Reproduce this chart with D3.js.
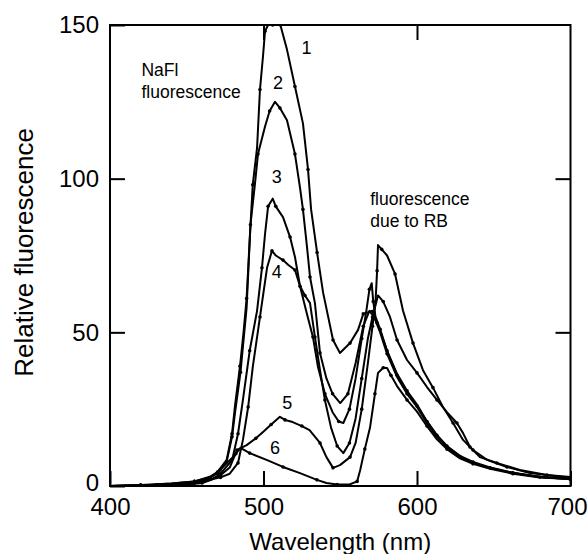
<!DOCTYPE html>
<html>
<head>
<meta charset="utf-8">
<script src="https://cdn.jsdelivr.net/npm/d3@7"></script>
<style>
  html, body { margin: 0; padding: 0; background: #fff; }
  svg { display: block; }
  text { font-family: "Liberation Sans", Arial, sans-serif; fill: #000; }
</style>
</head>
<body>
<svg id="chart" width="588" height="554"></svg>
<script>
// ---- data (wavelength nm, relative fluorescence) ----
const xTicks = [400, 500, 600, 700];
const yTicks = [0, 50, 100, 150];
const xTitle = "Wavelength (nm)";
const yTitle = "Relative fluorescence";

const curve1 = [[400,0],[420,0.3],[440,0.8],[455,1.5],[465,3],[470,4.5],[476,8.5],[479.5,17],[481.4,26],[484.7,39],[487,50],[489,61],[491,80],[493,98],[495.8,110],[497.7,129],[499.7,140],[501,148],[503,150],[506,150],[509,150],[511,150],[515.3,142],[520.5,130],[525.7,118],[529,103],[531,90],[534.9,76],[538.8,63],[545.3,47.5],[549.8,43.3],[556.4,46.5],[561.6,50.8],[565,56],[571,57],[574,53],[576,50.5],[580.5,44],[587,36.5],[593.5,31],[600,26.5],[606.5,21],[613,16.5],[619.5,13],[628,9.8],[636.5,7.8],[647.6,6],[662.5,4.3],[680,3],[700,2.2]];
const curve2 = [[400,0],[420,0.2],[440,0.8],[455,1.5],[465,2.8],[470,4],[476,8],[479.5,16],[481.5,24],[485,37],[489,58],[491.5,85],[494.5,98.6],[496.4,108],[501,117],[504,122],[507.5,125],[510.7,123],[515.3,119],[520.5,108],[523.8,97],[525.7,90],[528.3,78],[530.3,68],[533.5,59.5],[536.8,43.3],[541,35],[545,30],[550,27],[555,30],[560,40],[565,52],[569,57],[572,55],[576,50],[580.5,43],[587,35.5],[593.5,30],[600,25.7],[606.5,20.5],[613,16],[619.5,12.7],[628,9.4],[636.5,7.5],[647.6,5.9],[662.5,4.2],[680,2.9],[700,2.4]];
const curve3 = [[400,0],[420,0.2],[440,0.6],[455,1.2],[465,2.5],[471.7,5.2],[480,9.4],[483.4,17],[486.6,28],[491,44],[495.8,57],[499,71],[501,82],[503,91],[506,93.5],[508,91],[512.7,87.5],[517.3,81],[520.5,74.5],[523.8,65],[528.3,56],[532.2,48.5],[535.5,38.7],[540,30],[545,24],[549,21],[552,20.5],[556,25],[560,35],[564,48],[567,57],[569,64],[570.5,66],[571.5,60],[573,55],[576,51],[580.5,44],[587,36],[593.5,30.5],[600,26],[606.5,21],[613,16.5],[619.5,12.8],[628,9.6],[636.5,7.6],[647.6,5.9],[662.5,4.2],[680,2.9],[700,2.2]];
const curve4 = [[400,0],[420,0.2],[440,0.6],[455,1],[465,2],[472,2.8],[478,4],[483.4,7.5],[486.6,15],[490,25.7],[493,38.7],[497.7,55],[502.3,71],[505.5,76.5],[508,75],[512.7,73.5],[516,72],[520.5,70.3],[523.8,65],[527,62],[530.3,59.5],[533.5,48.5],[536.8,37.7],[540,28],[544,19],[548,13],[552,10.7],[556,14],[560,22],[564,35],[568,48],[571,55],[574.6,62],[578,60],[582.4,55],[587,47.5],[593.5,41],[600,36.8],[606.5,32.2],[613,28],[619.5,24],[626,20.5],[630,17.2],[634.5,12.7],[641,9.4],[652,7.5],[667,5.2],[684.7,3.6],[700,2.9]];
const curve5 = [[400,0],[420,0.2],[440,0.6],[455,1],[465,2],[472,3.5],[478,6],[482.7,11.7],[489,13.3],[495,15.5],[499.7,17.6],[505,20],[510.7,22.5],[514,21.5],[519,20.8],[525,19.5],[530,18.2],[536.8,14],[541,9.4],[545.3,5.9],[549.8,6.8],[556.4,9.4],[560,14],[564,25],[568,40],[571,52],[573,60],[574,70],[574.6,78.4],[577,77],[580.5,75],[585.7,69],[590.9,57],[597.4,46.5],[603.9,37.7],[610.4,32],[616.9,25.7],[623.5,20.5],[630,15],[636.5,11.7],[645.6,8.5],[658.6,6.2],[673.6,4.2],[700,2.6]];
const curve6 = [[400,0],[430,0.2],[450,0.5],[460,1],[466,2],[472,4],[478,7.5],[482,10.5],[485,12.4],[491,10.7],[502,8.5],[512.7,6.2],[523.8,4.2],[534.8,2],[541,1],[548,0.5],[556,0.5],[561,1.5],[563,5.2],[566,12],[569.4,19],[572.6,30],[574.6,36.8],[578,38.5],[580.5,38.4],[583,36],[587,32.5],[593.5,28],[600,24.2],[606.5,19.5],[613,15.2],[619.5,12],[628,9],[636.5,7.2],[647.6,5.6],[662.5,4],[680,2.8],[700,2.3]];

const seriesNames = ["1","2","3","4","5","6"];
const seriesData = [curve1, curve2, curve3, curve4, curve5, curve6];
// curve number labels: [wavelength, value]
const labelPos = [[528,142.4],[509.4,131],[508.6,100.6],[508.6,69.7],[515.5,27],[507.5,12.4]];
const notes = [
  {lines: ["NaFl", "fluorescence"], at: [420.5, 133.5]},
  {lines: ["fluorescence", "due to RB"], at: [569.5, 91.3]}
];

// ---- drawing ----
const svg = d3.select("#chart");
const x = d3.scaleLinear().domain([400, 700]).range([110, 570.5]);
const y = d3.scaleLinear().domain([0, 150]).range([486, 25]);

svg.append("defs").append("clipPath").attr("id", "plotclip")
  .append("rect").attr("x", 110).attr("y", 24).attr("width", 461).attr("height", 463);

const axisStyle = g => {
  g.selectAll("path.domain").remove();
  g.selectAll(".tick line").attr("stroke", "#000").attr("stroke-width", 2);
  g.selectAll(".tick text").style("font-size", "24px").attr("fill", "#000");
};

const xAxisG = svg.append("g").attr("transform", `translate(0,${y(0)})`)
  .call(d3.axisBottom(x).tickValues(xTicks).tickSize(-15).tickPadding(12).tickFormat(d3.format("d")))
  .call(axisStyle);
// last label kept inside the window
xAxisG.selectAll(".tick text").filter(d => d === 700)
  .attr("text-anchor", "end").attr("x", 587 - x(700));

svg.append("g").attr("transform", `translate(0,${y(150)})`)
  .call(d3.axisTop(x).tickValues([500, 600]).tickSize(-15).tickFormat(""))
  .call(axisStyle);
const yAxisG = svg.append("g").attr("transform", `translate(${x(400)},0)`)
  .call(d3.axisLeft(y).tickValues(yTicks).tickSize(-15).tickPadding(11).tickFormat(d3.format("d")))
  .call(axisStyle);
yAxisG.selectAll(".tick text").filter(d => d === 0).attr("y", -3);

svg.append("g").attr("transform", `translate(${x(700)},0)`)
  .call(d3.axisRight(y).tickValues([50, 100]).tickSize(-15).tickFormat(""))
  .call(axisStyle);

const plot = svg.append("g").attr("clip-path", "url(#plotclip)");
const line = d3.line().x(d => x(d[0])).y(d => y(d[1]));

seriesData.forEach((data, i) => {
  plot.append("path").datum(data)
    .attr("d", line)
    .attr("fill", "none")
    .attr("stroke", "#000")
    .attr("stroke-width", 2)
    .attr("stroke-linejoin", "round");
  plot.selectAll(null).data(data.filter((d, j) => j % 2 === 1)).enter()
    .append("circle")
    .attr("cx", d => x(d[0])).attr("cy", d => y(d[1]))
    .attr("r", 1.8).attr("fill", "#000");
});

// frame
svg.append("rect")
  .attr("x", x(400)).attr("y", y(150))
  .attr("width", x(700) - x(400)).attr("height", y(0) - y(150))
  .attr("fill", "none").attr("stroke", "#000").attr("stroke-width", 2);

// curve labels
svg.selectAll("text.cl").data(seriesNames).enter().append("text")
  .attr("class", "cl")
  .attr("x", (d, i) => x(labelPos[i][0]))
  .attr("y", (d, i) => y(labelPos[i][1]))
  .attr("text-anchor", "middle")
  .attr("dominant-baseline", "central")
  .style("font-size", "18px")
  .text(d => d);

notes.forEach(n => {
  const t = svg.append("text")
    .attr("x", x(n.at[0])).attr("y", y(n.at[1]))
    .style("font-size", "17.5px");
  n.lines.forEach((s, k) => {
    t.append("tspan").attr("x", x(n.at[0])).attr("dy", k === 0 ? 0 : 22).text(s);
  });
});

// axis titles
svg.append("text")
  .attr("x", (x(400) + x(700)) / 2).attr("y", 550)
  .attr("text-anchor", "middle")
  .style("font-size", "24px")
  .text(xTitle);
svg.append("text")
  .attr("transform", `translate(33,${y(76)}) rotate(-90)`)
  .attr("text-anchor", "middle")
  .style("font-size", "26px")
  .text(yTitle);
</script>
</body>
</html>
